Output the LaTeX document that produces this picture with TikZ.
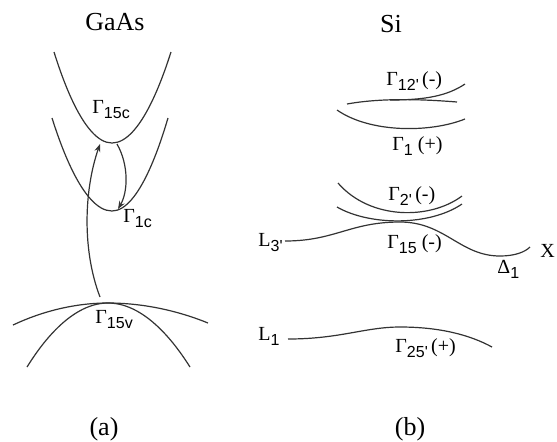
\documentclass[tikz,border=0pt]{standalone}
\usepackage{fontspec}
\setmainfont{Liberation Serif}
\newfontfamily\subsf{Liberation Sans}
\usetikzlibrary{arrows.meta}
\newcommand{\lsub}[1]{\raisebox{-2.8pt}{\fontsize{8}{9}\subsf #1}}
\tikzset{
    band/.style={line width=0.6pt, draw=black!80},
    trans/.style={band, -{Stealth[length=4pt,width=3pt]}},
    lbl/.style={anchor=base west, inner sep=0pt, font=\fontsize{10}{11}\selectfont},
    ttl/.style={anchor=base, inner sep=0pt, font=\fontsize{13}{14}\selectfont}
}

\begin{document}
\begin{tikzpicture}[x=0.5pt, y=-0.5pt]
        \useasboundingbox (0,0) rectangle (557,441);

        % GaAs
        \node[ttl] (gaas) at (115,30) {GaAs};
        \draw[band] (54,52) parabola bend (112,143) (171,52);   % Gamma 15c
        \draw[band] (52,118) parabola bend (112,211) (168,118); % Gamma 1c
        \draw[band] (13,325) parabola bend (108,303) (208,323); % Gamma 15v
        \draw[band] (27,367) parabola bend (108,303) (190,367);

        \coordinate (vtop) at (100,297);
        \coordinate (c15) at (100,144);
        \coordinate (c15r) at (117,144);
        \coordinate (c1) at (118,209);
        \draw[trans] (vtop) .. controls (82,250) and (84,190) .. (c15);
        \draw[trans] (c15r) .. controls (129,165) and (128,192) .. (c1);

        \node[lbl] (g15c) at (92,113) {Γ\lsub{15c}};
        \node[lbl] (g1c) at (123,222) {Γ\lsub{1c}};
        \node[lbl] (g15v) at (95,323) {Γ\lsub{15v}};
        \node[ttl] (capa) at (104,435) {(a)};

        % Si
        \node[ttl] (si) at (391,32) {Si};
        \draw[band] (347,104) .. controls (380,98) and (420,99) .. (457,102);
        \draw[band] (390,100) .. controls (425,100) and (447,96) .. (465,84);
        \draw[band] (337,110) .. controls (370,133) and (430,133) .. (465,119);
        \draw[band] (338,183) .. controls (370,220) and (430,220) .. (462,196);
        \draw[band] (337,207) .. controls (370,226) and (430,226) .. (462,204);
        \draw[band] (285,241) .. controls (335,241) and (350,222) .. (400,222)
            .. controls (445,222) and (460,256) .. (500,256)
            .. controls (515,256) and (525,252) .. (530,247);
        \draw[band] (288,339) .. controls (340,339) and (365,327) .. (400,327)
            .. controls (440,327) and (470,335) .. (492,347);

        \node[lbl] (g12) at (386,85) {Γ\lsub{12'}\,(-)};
        \node[lbl] (g1) at (392,150) {Γ\lsub{1} (+)};
        \node[lbl] (g2) at (388,200) {Γ\lsub{2'}\,(-)};
        \node[lbl] (g15) at (387,248) {Γ\lsub{15} (-)};
        \node[lbl] (g25) at (395,352) {Γ\lsub{25'}\,(+)};
        \node[lbl] (l3) at (258,246) {L\lsub{3'}};
        \node[lbl] (l1) at (258,340) {L\lsub{1}};
        \node[lbl] (d1) at (497,273) {Δ\lsub{1}};
        \node[lbl] (xpt) at (540,257) {X};
        \node[ttl] (capb) at (410,435) {(b)};
\end{tikzpicture}
\end{document}
